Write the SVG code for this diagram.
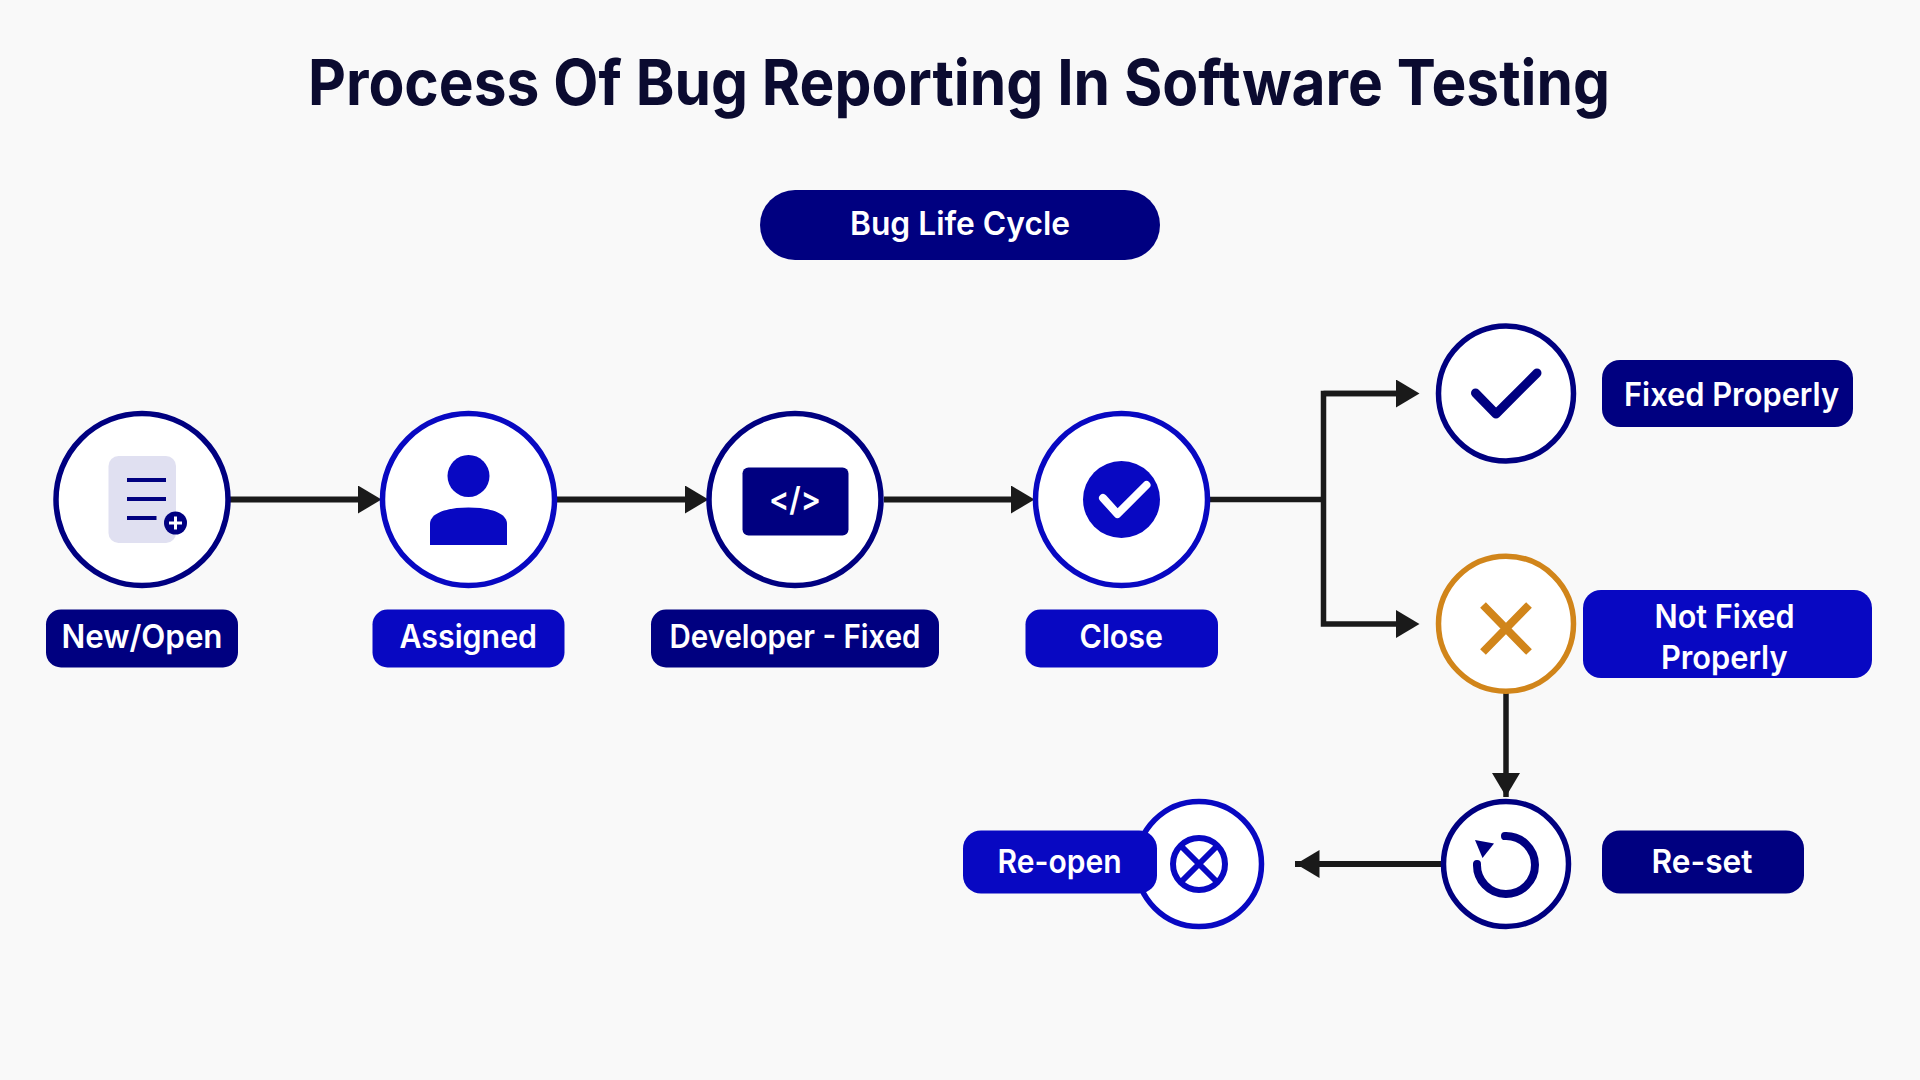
<svg xmlns="http://www.w3.org/2000/svg" width="1920" height="1080" viewBox="0 0 1920 1080">
<style>
text{font-family:"Inter","Liberation Sans",sans-serif;font-weight:600;fill:#fff;font-size:32px}
.title{font-size:63px;fill:#0b0b30;font-weight:700}
.navy{fill:#000080}.blue{fill:#0808c2}
.node{fill:#fff;stroke-width:5.500}
.sn{stroke:#000080}.sb{stroke:#0808c2}.so{stroke:#d1851a}
.conn{fill:none;stroke:#1a1a1a;stroke-width:6}
.thin{stroke-width:5.500}
.ink{fill:none;stroke-linecap:round;stroke-linejoin:round}
</style>
<defs>
<marker id="head" markerUnits="userSpaceOnUse" viewBox="0 -14 24 28" refX="0" refY="0" markerWidth="24" markerHeight="28" orient="auto">
<path d="M0-14L23.500 0L0 14z" fill="#1a1a1a"/>
</marker>
<clipPath id="xclip"><circle cx="1199" cy="864" r="26"/></clipPath>
</defs>
<rect width="1920" height="1080" fill="#f9f9f9"/>
<text class="title" x="308" y="105" textLength="1302" lengthAdjust="spacingAndGlyphs">Process Of Bug Reporting In Software Testing</text>
<g id="connectors">
<path class="conn" d="M230 499.500H358" marker-end="url(#head)"/>
<path class="conn" d="M557 499.500H685" marker-end="url(#head)"/>
<path class="conn" d="M884 499.500H1011" marker-end="url(#head)"/>
<path class="conn thin" d="M1210 499.500H1323.500"/>
<path class="conn thin" d="M1396 393.500H1323.500V624H1396" marker-end="url(#head)"/>
<path class="conn thin" d="M1323.500 393.500H1396" marker-end="url(#head)"/>
<path class="conn thin" d="M1506 693V773V797" marker-mid="url(#head)"/>
<path class="conn" d="M1441 864H1319.500H1295" marker-mid="url(#head)"/>
</g>
<g id="bug-life-cycle">
<rect class="navy" x="760" y="190" width="400" height="70" rx="35"/>
<text x="850" y="234.500" textLength="220" lengthAdjust="spacingAndGlyphs">Bug Life Cycle</text>
</g>
<g id="new-open">
<circle class="node sn" cx="142" cy="499.500" r="86"/>
<rect x="108.500" y="456" width="67.500" height="87" rx="10" fill="#e0e0f1"/>
<path d="M127 480H166M127 499H166M127 518H156.500" fill="none" stroke="#000080" stroke-width="4"/>
<circle class="navy" cx="175.500" cy="523" r="11.500"/>
<path d="M169 523H182M175.500 516.500V529.500" stroke="#fff" stroke-width="3"/>
<rect class="navy" x="46" y="609.500" width="192" height="58" rx="15"/>
<text x="61.500" y="648" textLength="161" lengthAdjust="spacingAndGlyphs">New/Open</text>
</g>
<g id="assigned">
<circle class="node sb" cx="468.500" cy="499.500" r="86"/>
<circle class="blue" cx="468.500" cy="476" r="21"/>
<path class="blue" d="M430 545V524C430 513 447 507.500 468.500 507.500C490 507.500 507 513 507 524V545Z"/>
<rect class="blue" x="372.500" y="609.500" width="192" height="58" rx="15"/>
<text x="399.500" y="648" textLength="137.500" lengthAdjust="spacingAndGlyphs">Assigned</text>
</g>
<g id="developer-fixed">
<circle class="node sn" cx="795" cy="499.500" r="86"/>
<rect class="navy" x="742.500" y="467.500" width="106" height="68" rx="6"/>
<text x="769" y="511" textLength="52" lengthAdjust="spacingAndGlyphs" style="font-size:33px">&lt;/&gt;</text>
<rect class="navy" x="651" y="609.500" width="288" height="58" rx="15"/>
<text x="669.500" y="648" textLength="251" lengthAdjust="spacingAndGlyphs">Developer - Fixed</text>
</g>
<g id="close">
<circle class="node sb" cx="1121.500" cy="499.500" r="86"/>
<circle class="blue" cx="1121.500" cy="499.500" r="38.500"/>
<path class="ink" d="M1103 498L1117.500 514L1146.500 485" stroke="#fff" stroke-width="8"/>
<rect class="blue" x="1025.500" y="609.500" width="192.500" height="58" rx="15"/>
<text x="1079.500" y="648" textLength="83.500" lengthAdjust="spacingAndGlyphs">Close</text>
</g>
<g id="fixed-properly">
<circle class="node sn" cx="1506" cy="393.500" r="67.500"/>
<path class="ink" d="M1475.500 393L1496 414L1537 373" stroke="#000080" stroke-width="9"/>
<rect class="navy" x="1602" y="360" width="251" height="67" rx="18"/>
<text x="1624" y="405.500" textLength="215" lengthAdjust="spacingAndGlyphs">Fixed Properly</text>
</g>
<g id="not-fixed-properly">
<circle class="node so" cx="1506" cy="623.700" r="67.500"/>
<path d="M1483 605L1529 652M1529 605L1483 652" fill="none" stroke="#d1851a" stroke-width="8"/>
<rect class="blue" x="1583" y="590" width="289" height="88" rx="18"/>
<text x="1654.500" y="627.500" textLength="140" lengthAdjust="spacingAndGlyphs">Not Fixed</text>
<text x="1661" y="669" textLength="126.500" lengthAdjust="spacingAndGlyphs">Properly</text>
</g>
<g id="re-set">
<circle class="node sn" cx="1506" cy="864" r="62.500"/>
<path d="M1505 836A29 29 0 1 1 1477 864" fill="none" stroke="#000080" stroke-width="8" stroke-linecap="round"/>
<path class="navy" d="M1475 840L1494 843.500L1482.500 858Z"/>
<rect class="navy" x="1602" y="830.500" width="202" height="63" rx="18"/>
<text x="1651.500" y="873" textLength="101" lengthAdjust="spacingAndGlyphs">Re-set</text>
</g>
<g id="re-open">
<circle class="node sb" cx="1199" cy="864" r="62.500"/>
<circle cx="1199" cy="864" r="26" fill="none" stroke="#0808c2" stroke-width="6"/>
<path d="M1180 845L1218 883M1218 845L1180 883" stroke="#0808c2" stroke-width="6" clip-path="url(#xclip)"/>
<rect class="blue" x="963" y="830.500" width="194" height="63" rx="18"/>
<text x="997.500" y="872.500" textLength="124" lengthAdjust="spacingAndGlyphs">Re-open</text>
</g>
</svg>
